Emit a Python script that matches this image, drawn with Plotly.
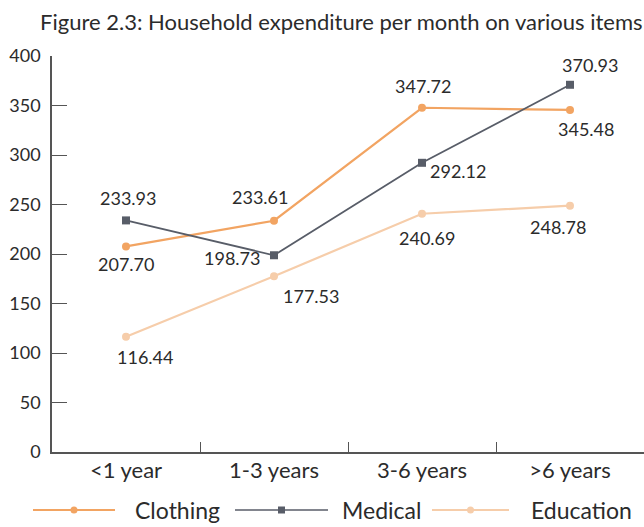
import plotly.graph_objects as go

categories = ["<1 year", "1-3 years", "3-6 years", ">6 years"]
clothing = [207.70, 233.61, 347.72, 345.48]
medical = [233.93, 198.73, 292.12, 370.93]
education = [116.44, 177.53, 240.69, 248.78]
y_ticks = [0, 50, 100, 150, 200, 250, 300, 350, 400]

C_CLOTH = "#F2A462"
C_MED = "#585D68"
C_EDU = "#F6CDAA"
TXT = "#2b2b2b"
FONT = "Lato"

# label offsets (pixels) per series point
cloth_off = [(0, -18), (-14, 24), (1, 22), (16, -19)]
med_off = [(2, 22), (-42, -3), (36, -8), (20, 20)]
edu_off = [(19, -20), (37, -20), (5, -24), (-12, -21)]

fig = go.Figure()
fig.add_trace(go.Scatter(x=categories, y=clothing, mode="lines+markers",
                         line=dict(color=C_CLOTH, width=2.2),
                         marker=dict(color=C_CLOTH, size=8, symbol="circle"),
                         showlegend=False))
fig.add_trace(go.Scatter(x=categories, y=medical, mode="lines+markers",
                         line=dict(color=C_MED, width=1.8),
                         marker=dict(color=C_MED, size=8, symbol="square"),
                         showlegend=False))
fig.add_trace(go.Scatter(x=categories, y=education, mode="lines+markers",
                         line=dict(color=C_EDU, width=2.2),
                         marker=dict(color=C_EDU, size=8, symbol="circle"),
                         showlegend=False))

for vals, offs in ((clothing, cloth_off), (medical, med_off), (education, edu_off)):
    for c, v, (dx, dy) in zip(categories, vals, offs):
        fig.add_annotation(x=c, y=v, text=f"{v:.2f}", showarrow=False,
                           xshift=dx, yshift=dy,
                           font=dict(family=FONT, size=18, color=TXT))

# custom legend
legend_items = [("Clothing", C_CLOTH, "circle", 2.2), ("Medical", C_MED, "square", 1.6),
                ("Education", C_EDU, "circle", 2.2)]
line_x = [(33, 115), (235, 328), (432, 509)]
text_x = [133, 340, 529]
W = 644.0
Lm = 52.0
pw = W - Lm
PT, PB = 56.0, 452.0
def px2paper(px):
    return (px - Lm) / pw
def py2paper(py):
    return (PB - py) / (PB - PT)
ly = py2paper(510)
for (name, col, sym, lw), (x0, x1), tx in zip(legend_items, line_x, text_x):
    fig.add_shape(type="line", xref="paper", yref="paper",
                  x0=px2paper(x0), x1=px2paper(x1), y0=ly, y1=ly,
                  line=dict(color=col, width=lw))
    xm = px2paper((x0 + x1) / 2)
    fig.add_shape(type="rect" if sym == "square" else "circle",
                  xref="paper", yref="paper", xsizemode="pixel", ysizemode="pixel",
                  xanchor=xm, yanchor=ly, x0=-3.5, x1=3.5, y0=-3.5, y1=3.5,
                  line=dict(width=0), fillcolor=col)
    fig.add_annotation(xref="paper", yref="paper", x=px2paper(tx), y=ly,
                       xanchor="left", yanchor="middle", text=name, showarrow=False,
                       font=dict(family=FONT, size=23, color=TXT))

fig.update_layout(
    width=644, height=527,
    margin=dict(l=52, r=0, t=56, b=75),
    paper_bgcolor="white", plot_bgcolor="white",
    title=dict(text="Figure 2.3: Household expenditure per month on various items",
               x=0.53, xanchor="center", y=1 - 22 / 527, yanchor="middle",
               font=dict(family=FONT, size=22, color=TXT)),
    font=dict(family=FONT, size=17, color=TXT),
    showlegend=False,
)
fig.update_xaxes(type="category", range=[-0.5, 3.5], showline=True, linecolor="#555555",
                 linewidth=1.6, ticks="inside", tickson="boundaries", ticklen=10,
                 tickcolor="#555555", showgrid=False, zeroline=False,
                 ticklabelstandoff=-2,
                 tickfont=dict(family=FONT, size=22, color=TXT))
fig.update_yaxes(range=[0, 400], tickvals=y_ticks, showline=True, linecolor="#555555",
                 linewidth=1.6, ticks="inside", ticklen=15, tickcolor="#555555",
                 showgrid=False, zeroline=False, ticklabelstandoff=6,
                 tickfont=dict(family=FONT, size=18, color=TXT))

fig.write_html("out.html", config={"displayModeBar": False},
               post_script="document.body.style.margin='0';")
